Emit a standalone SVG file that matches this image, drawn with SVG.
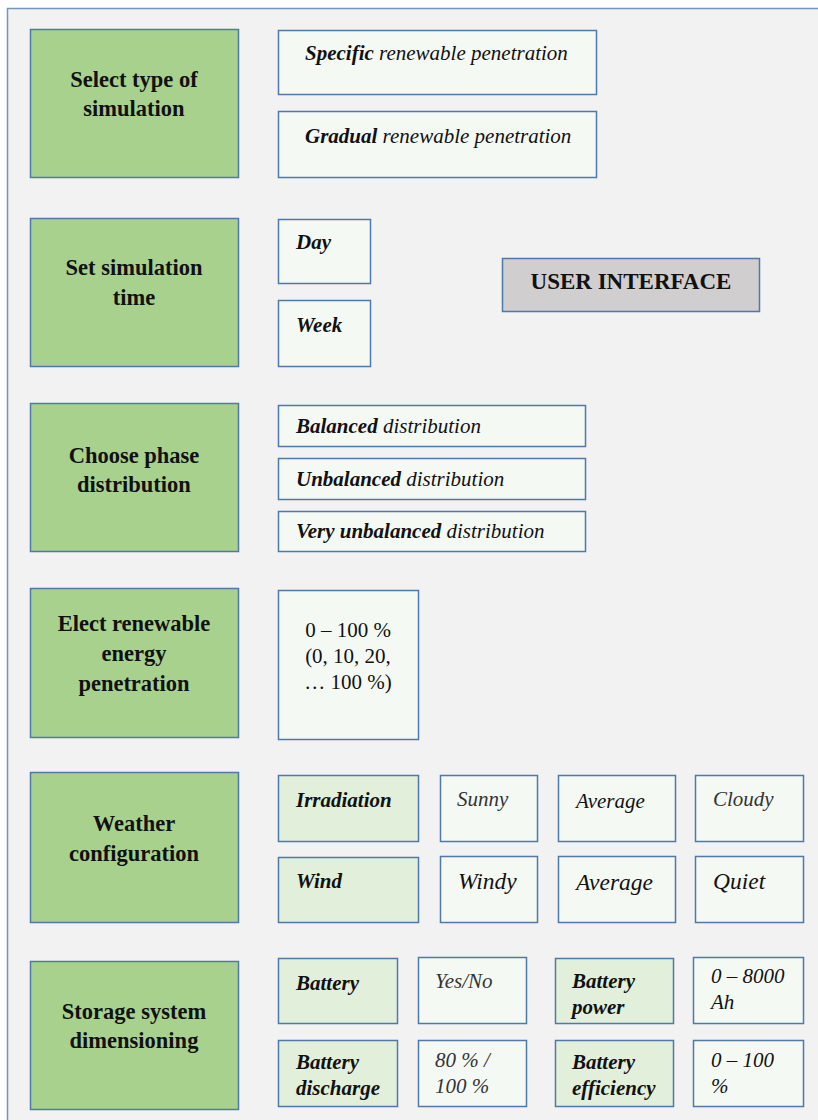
<svg xmlns="http://www.w3.org/2000/svg" width="818" height="1120" viewBox="0 0 818 1120">
  <style>
    .frame { fill: #f2f2f2; stroke: #7395bd; stroke-width: 1.5; }
    .step { fill: #a9d18e; stroke: #4f79a8; stroke-width: 1.5; }
    .opt { fill: #f5f9f4; stroke: #4f79a8; stroke-width: 1.5; }
    .key { fill: #e2efda; stroke: #4f79a8; stroke-width: 1.5; }
    .ui { fill: #d0cece; stroke: #4f79a8; stroke-width: 1.5; }
    text { font-family: 'Liberation Serif', serif; fill: #111; }
    .lbl { font-size: 22.5px; font-weight: bold; text-anchor: middle; }
    .it { font-size: 21px; font-style: italic; }
    .bi { font-weight: bold; }
    .big { font-size: 23.5px; }
    .soft { fill: #333; }
    .num { font-size: 21px; text-anchor: middle; }
    .title { font-size: 23px; font-weight: bold; text-anchor: middle; }
  </style>

  <rect x="0" y="0" width="818" height="1120" fill="#ffffff"/>
  <rect class="frame" x="7.5" y="8.5" width="820" height="1120"/>

  <!-- step 1: simulation type -->
  <g id="step-type">
    <rect class="step" x="30.5" y="29.5" width="208" height="148"/>
    <text class="lbl" x="134" y="87">Select type of</text>
    <text class="lbl" x="134" y="116">simulation</text>
  </g>
  <g id="opt-specific">
    <rect class="opt" x="278.5" y="30.5" width="318" height="64"/>
    <text class="it" x="305" y="60"><tspan class="bi">Specific</tspan> renewable penetration</text>
  </g>
  <g id="opt-gradual">
    <rect class="opt" x="278.5" y="111.5" width="318" height="66"/>
    <text class="it" x="305" y="143"><tspan class="bi">Gradual</tspan> renewable penetration</text>
  </g>

  <!-- step 2: simulation time -->
  <g id="step-time">
    <rect class="step" x="30.5" y="218.5" width="208" height="148"/>
    <text class="lbl" x="134" y="275">Set simulation</text>
    <text class="lbl" x="134" y="305">time</text>
  </g>
  <g id="opt-day">
    <rect class="opt" x="278.5" y="219.5" width="92" height="64"/>
    <text class="it bi" x="296" y="249">Day</text>
  </g>
  <g id="opt-week">
    <rect class="opt" x="278.5" y="300.5" width="92" height="66"/>
    <text class="it bi" x="296" y="332">Week</text>
  </g>
  <g id="user-interface">
    <rect class="ui" x="502.5" y="258.5" width="257" height="53"/>
    <text class="title" x="631" y="289">USER INTERFACE</text>
  </g>

  <!-- step 3: phase distribution -->
  <g id="step-phase">
    <rect class="step" x="30.5" y="403.5" width="208" height="148"/>
    <text class="lbl" x="134" y="463">Choose phase</text>
    <text class="lbl" x="134" y="492">distribution</text>
  </g>
  <g id="opt-balanced">
    <rect class="opt" x="278.5" y="405.5" width="307" height="41"/>
    <text class="it" x="296" y="433"><tspan class="bi">Balanced</tspan> distribution</text>
  </g>
  <g id="opt-unbalanced">
    <rect class="opt" x="278.5" y="458.5" width="307" height="41"/>
    <text class="it" x="296" y="486"><tspan class="bi">Unbalanced</tspan> distribution</text>
  </g>
  <g id="opt-very-unbalanced">
    <rect class="opt" x="278.5" y="511.5" width="307" height="40"/>
    <text class="it" x="296" y="538"><tspan class="bi">Very unbalanced</tspan> distribution</text>
  </g>

  <!-- step 4: renewable penetration -->
  <g id="step-penetration">
    <rect class="step" x="30.5" y="588.5" width="208" height="149"/>
    <text class="lbl" x="134" y="631">Elect renewable</text>
    <text class="lbl" x="134" y="661">energy</text>
    <text class="lbl" x="134" y="691">penetration</text>
  </g>
  <g id="opt-percent">
    <rect class="opt" x="278.5" y="590.5" width="140" height="149"/>
    <text class="num" x="348" y="637">0 – 100 %</text>
    <text class="num" x="348" y="663">(0, 10, 20,</text>
    <text class="num" x="348" y="689">… 100 %)</text>
  </g>

  <!-- step 5: weather -->
  <g id="step-weather">
    <rect class="step" x="30.5" y="772.5" width="208" height="150"/>
    <text class="lbl" x="134" y="831">Weather</text>
    <text class="lbl" x="134" y="861">configuration</text>
  </g>
  <g id="key-irradiation">
    <rect class="key" x="278.5" y="775.5" width="140" height="66"/>
    <text class="it bi" x="296" y="807">Irradiation</text>
  </g>
  <g id="opt-sunny">
    <rect class="opt" x="440.5" y="775.5" width="97" height="66"/>
    <text class="it soft" x="457" y="806">Sunny</text>
  </g>
  <g id="opt-irr-average">
    <rect class="opt" x="558.5" y="775.5" width="117" height="66"/>
    <text class="it" x="576" y="808">Average</text>
  </g>
  <g id="opt-cloudy">
    <rect class="opt" x="695.5" y="775.5" width="108" height="66"/>
    <text class="it soft" x="713" y="806">Cloudy</text>
  </g>
  <g id="key-wind">
    <rect class="key" x="278.5" y="857.5" width="140" height="65"/>
    <text class="it bi" x="296" y="888">Wind</text>
  </g>
  <g id="opt-windy">
    <rect class="opt" x="440.5" y="856.5" width="97" height="66"/>
    <text class="it big" x="458" y="889">Windy</text>
  </g>
  <g id="opt-wind-average">
    <rect class="opt" x="558.5" y="856.5" width="117" height="66"/>
    <text class="it big" x="576" y="890">Average</text>
  </g>
  <g id="opt-quiet">
    <rect class="opt" x="695.5" y="856.5" width="108" height="66"/>
    <text class="it big" x="713" y="889">Quiet</text>
  </g>

  <!-- step 6: storage -->
  <g id="step-storage">
    <rect class="step" x="30.5" y="961.5" width="208" height="148"/>
    <text class="lbl" x="134" y="1019">Storage system</text>
    <text class="lbl" x="134" y="1048">dimensioning</text>
  </g>
  <g id="key-battery">
    <rect class="key" x="278.5" y="958.5" width="119" height="65"/>
    <text class="it bi" x="296" y="990">Battery</text>
  </g>
  <g id="opt-yesno">
    <rect class="opt" x="418.5" y="957.5" width="108" height="66"/>
    <text class="it soft" x="435" y="988">Yes/No</text>
  </g>
  <g id="key-battery-power">
    <rect class="key" x="555.5" y="958.5" width="118" height="65"/>
    <text class="it bi" x="572" y="988">Battery</text>
    <text class="it bi" x="572" y="1014">power</text>
  </g>
  <g id="opt-power-range">
    <rect class="opt" x="693.5" y="957.5" width="110" height="66"/>
    <text class="it" x="711" y="983">0 – 8000</text>
    <text class="it" x="711" y="1009">Ah</text>
  </g>
  <g id="key-battery-discharge">
    <rect class="key" x="278.5" y="1040.5" width="119" height="66"/>
    <text class="it bi" x="296" y="1069">Battery</text>
    <text class="it bi" x="296" y="1095">discharge</text>
  </g>
  <g id="opt-discharge">
    <rect class="opt" x="418.5" y="1040.5" width="108" height="66"/>
    <text class="it soft" x="435" y="1067">80 % /</text>
    <text class="it soft" x="435" y="1093">100 %</text>
  </g>
  <g id="key-battery-efficiency">
    <rect class="key" x="555.5" y="1040.5" width="118" height="66"/>
    <text class="it bi" x="572" y="1069">Battery</text>
    <text class="it bi" x="572" y="1095">efficiency</text>
  </g>
  <g id="opt-efficiency">
    <rect class="opt" x="693.5" y="1040.5" width="110" height="66"/>
    <text class="it" x="711" y="1067">0 – 100</text>
    <text class="it" x="711" y="1093">%</text>
  </g>

  <!-- no connectors are drawn between these nodes -->
  <g id="connectors"/>
</svg>
